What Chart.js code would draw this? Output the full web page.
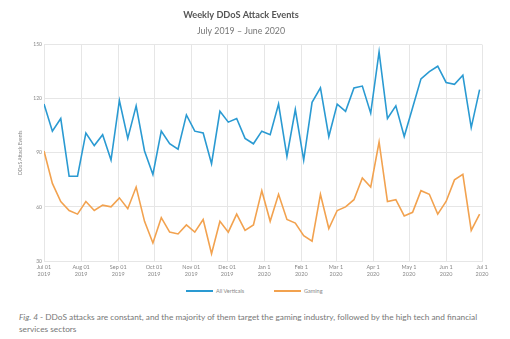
<!DOCTYPE html>
<html>
<head>
<meta charset="utf-8">
<script src="https://cdn.jsdelivr.net/npm/chart.js@4/dist/chart.umd.min.js"></script>
<style>
  body { margin: 0; background: #fff; font-family: Lato, "Open Sans", sans-serif; }
  #wrap { position: absolute; left: 0; top: 0; width: 510px; height: 280px; }
  #legend { position: absolute; top: 285px; left: 0; width: 510px; height: 12px; font-size: 5.5px; color: #888; }
  .item { position: absolute; top: 0; height: 12px; line-height: 12px; white-space: nowrap; }
  .swatch { display: inline-block; width: 27px; height: 1.8px; vertical-align: middle; margin-right: 3px; position: relative; top: -0.5px; }
  #caption {
    position: absolute; left: 19px; top: 311px; width: 480px;
    font-size: 8.3px; line-height: 12px; color: #777;
  }
</style>
</head>
<body>
<div id="wrap"><canvas id="myChart" width="510" height="280"></canvas></div>
<div id="legend"></div>
<div id="caption"><i>Fig. 4</i> - DDoS attacks are constant, and the majority of them target the gaming industry, followed by the high tech and financial services sectors</div>

<script>
// weekly counts, first week starting Jul 1 2019
const allVerticals = [117, 102, 109, 77, 77, 101, 94, 100, 86, 119, 98, 116, 91, 78, 102, 95, 92, 111, 102, 101, 84, 113, 107, 109, 98, 95, 102, 100,
  117, 88, 114, 86, 118, 126, 99, 117, 113, 126, 127, 112, 146, 109, 116, 99, 115, 131, 135, 138, 129, 128, 133, 104, 125];
const gaming = [91, 73, 63, 58, 56, 63, 58, 61, 60, 65, 59, 71, 52, 40, 54, 46, 45, 50, 46, 53, 34, 52, 46, 56, 47, 50, 69, 52,
  67, 53, 51, 44, 41, 67, 48, 58, 60, 64, 76, 71, 96, 63, 64, 55, 57, 69, 67, 56, 63, 75, 78, 47, 56];

// month starts, in days since Jul 1 2019
const monthDays = [0, 31, 62, 92, 123, 153, 184, 215, 244, 275, 305, 336, 366];
const monthLabels = [
  ["Jul 01", "2019"], ["Aug 01", "2019"], ["Sep 01", "2019"], ["Oct 01", "2019"],
  ["Nov 01", "2019"], ["Dec 01", "2019"], ["Jan 1", "2020"], ["Feb 1", "2020"],
  ["Mar 1", "2020"], ["Apr 1", "2020"], ["May 1", "2020"], ["Jun 1", "2020"], ["Jul 1", "2020"]
];
const yTicks = [30, 60, 90, 120, 150];

const toPoints = (arr) => arr.map((v, i) => ({ x: i * 7, y: v }));
const FONT = "Lato, 'Open Sans', sans-serif";
const gridColor = "#e6e6e6";

const ctx = document.getElementById("myChart").getContext("2d");
const myChart = new Chart(ctx, {
  type: "line",
  data: {
    datasets: [
      {
        label: "All Verticals",
        data: toPoints(allVerticals),
        borderColor: "#2a9ad2",
        backgroundColor: "#2a9ad2",
        borderWidth: 1.6,
        pointRadius: 0,
        tension: 0,
      },
      {
        label: "Gaming",
        data: toPoints(gaming),
        borderColor: "#f2a24f",
        backgroundColor: "#f2a24f",
        borderWidth: 1.6,
        pointRadius: 0,
        tension: 0,
      },
    ],
  },
  options: {
    responsive: false,
    animation: false,
    layout: { padding: { left: 0, right: 28, top: 0, bottom: 0 } },
    plugins: {
      title: {
        display: true,
        text: "Weekly DDoS Attack Events",
        color: "#555",
        font: { family: FONT, size: 9.2, weight: "bold" },
        padding: { top: 10, bottom: 5 },
      },
      subtitle: {
        display: true,
        text: "July 2019 \u2013 June 2020",
        color: "#777",
        font: { family: FONT, size: 8.8, weight: "normal" },
        padding: { top: 0, bottom: 8 },
      },
      legend: { display: false },
      tooltip: { enabled: false },
    },
    scales: {
      x: {
        type: "linear",
        min: 0,
        max: 366,
        afterBuildTicks: (scale) => {
          scale.ticks = monthDays.map((d) => ({ value: d }));
        },
        afterFit: (scale) => { scale.height = 19; },
        grid: { color: gridColor, drawTicks: false },
        border: { color: gridColor },
        ticks: {
          autoSkip: false,
          maxRotation: 0,
          padding: 3,
          color: "#888",
          font: { family: FONT, size: 5.5 },
          callback: (val) => monthLabels[monthDays.indexOf(val)],
        },
      },
      y: {
        min: 30,
        max: 150,
        afterBuildTicks: (scale) => {
          scale.ticks = yTicks.map((v) => ({ value: v }));
        },
        afterFit: (scale) => { scale.width = 44; },
        grid: { color: gridColor, drawTicks: false },
        border: { color: gridColor },
        title: {
          display: true,
          text: "DDoS Attack Events",
          color: "#888",
          font: { family: FONT, size: 5 },
          padding: { top: 17, bottom: 0 },
        },
        ticks: {
          padding: 2,
          color: "#888",
          font: { family: FONT, size: 5 },
        },
      },
    },
  },
});

// legend, built from the chart's datasets
const legendLeft = [186, 274];
const legendEl = document.getElementById("legend");
myChart.data.datasets.forEach((ds, i) => {
  const item = document.createElement("div");
  item.className = "item";
  item.style.left = legendLeft[i] + "px";
  item.innerHTML = '<span class="swatch" style="background:' + ds.borderColor + '"></span>' + ds.label;
  legendEl.appendChild(item);
});
</script>
</body>
</html>
